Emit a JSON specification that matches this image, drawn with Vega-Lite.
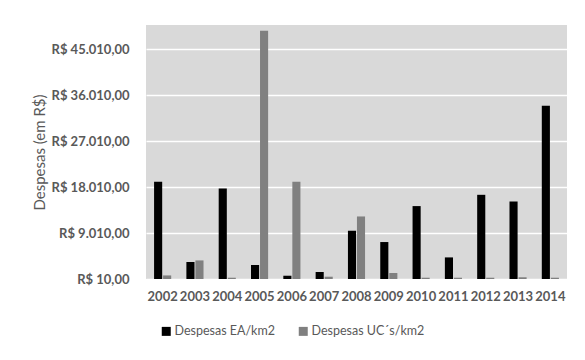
{
  "$schema": "https://vega.github.io/schema/vega-lite/v6.json",
  "width": 421,
  "height": 254,
  "autosize": "none",
  "padding": {"left": 146, "top": 25, "right": 18, "bottom": 81},
  "background": "white",
  "config": {
    "font": "Lato",
    "view": {"fill": "#d9d9d9", "stroke": null},
    "locale": {"number": {"decimal": ",", "thousands": ".", "grouping": [3], "currency": ["R$ ", ""]}}
  },
  "data": {"values": [
    {"ano": "2002", "serie": "Despesas EA/km2", "valor": 19050},
    {"ano": "2002", "serie": "Despesas UC´s/km2", "valor": 710},
    {"ano": "2003", "serie": "Despesas EA/km2", "valor": 3340},
    {"ano": "2003", "serie": "Despesas UC´s/km2", "valor": 3650},
    {"ano": "2004", "serie": "Despesas EA/km2", "valor": 17740},
    {"ano": "2004", "serie": "Despesas UC´s/km2", "valor": 260},
    {"ano": "2005", "serie": "Despesas EA/km2", "valor": 2750},
    {"ano": "2005", "serie": "Despesas UC´s/km2", "valor": 48650},
    {"ano": "2006", "serie": "Despesas EA/km2", "valor": 650},
    {"ano": "2006", "serie": "Despesas UC´s/km2", "valor": 19050},
    {"ano": "2007", "serie": "Despesas EA/km2", "valor": 1380},
    {"ano": "2007", "serie": "Despesas UC´s/km2", "valor": 460},
    {"ano": "2008", "serie": "Despesas EA/km2", "valor": 9460},
    {"ano": "2008", "serie": "Despesas UC´s/km2", "valor": 12260},
    {"ano": "2009", "serie": "Despesas EA/km2", "valor": 7250},
    {"ano": "2009", "serie": "Despesas UC´s/km2", "valor": 1180},
    {"ano": "2010", "serie": "Despesas EA/km2", "valor": 14290},
    {"ano": "2010", "serie": "Despesas UC´s/km2", "valor": 260},
    {"ano": "2011", "serie": "Despesas EA/km2", "valor": 4240},
    {"ano": "2011", "serie": "Despesas UC´s/km2", "valor": 260},
    {"ano": "2012", "serie": "Despesas EA/km2", "valor": 16500},
    {"ano": "2012", "serie": "Despesas UC´s/km2", "valor": 260},
    {"ano": "2013", "serie": "Despesas EA/km2", "valor": 15190},
    {"ano": "2013", "serie": "Despesas UC´s/km2", "valor": 350},
    {"ano": "2014", "serie": "Despesas EA/km2", "valor": 33920},
    {"ano": "2014", "serie": "Despesas UC´s/km2", "valor": 260}
  ]},
  "mark": {"type": "bar", "clip": true},
  "encoding": {
    "x": {
      "field": "ano", "type": "nominal",
      "scale": {"paddingInner": 0.47, "paddingOuter": 0.25},
      "axis": {"title": null, "labelAngle": 0, "domain": false, "ticks": false, "labelFontWeight": "bold", "labelFontSize": 13, "labelColor": "#595959", "labelPadding": 11}
    },
    "xOffset": {"field": "serie", "type": "nominal", "scale": {"paddingInner": 0.1}},
    "y": {
      "field": "valor", "type": "quantitative",
      "scale": {"domain": [10, 49760], "zero": false, "nice": false},
      "axis": {"title": "Despesas (em R$)", "values": [10, 9010, 18010, 27010, 36010, 45010], "format": "$,.2f", "domain": false, "ticks": false, "gridColor": "white", "gridWidth": 1.5, "gridOpacity": 1, "labelFontWeight": "bold", "labelFontSize": 13, "labelColor": "#595959", "labelPadding": 17, "titleFontWeight": "normal", "titleFontSize": 15, "titleColor": "#595959", "titlePadding": 4}
    },
    "y2": {"datum": 10},
    "color": {
      "field": "serie", "type": "nominal",
      "scale": {"domain": ["Despesas EA/km2", "Despesas UC´s/km2"], "range": ["#000000", "#808080"]},
      "legend": {"title": null, "orient": "none", "legendX": 14, "legendY": 300, "direction": "horizontal", "symbolType": "square", "symbolSize": 81, "symbolStrokeWidth": 0, "labelFontSize": 12.5, "labelColor": "#595959", "columnPadding": 22, "labelOffset": 2}
    }
  }
}
